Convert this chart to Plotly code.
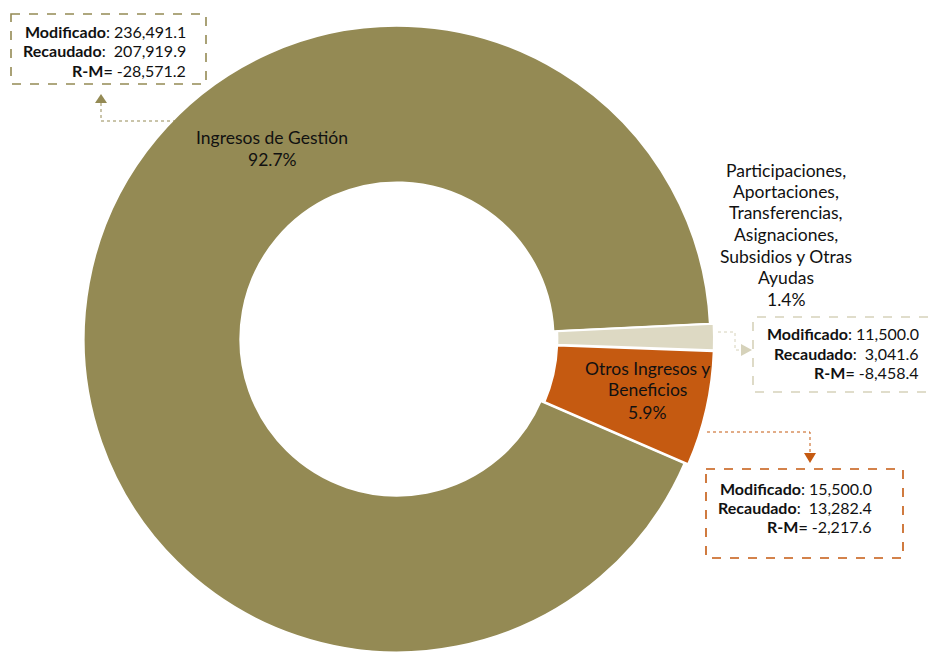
import plotly.graph_objects as go

# ---- data ----
categories = ["Ingresos de Gestión",
              "Participaciones, Aportaciones, Transferencias, Asignaciones, Subsidios y Otras Ayudas",
              "Otros Ingresos y Beneficios"]
label_lines = [["Ingresos de Gestión"],
               ["Participaciones,", "Aportaciones,", "Transferencias,", "Asignaciones,",
                "Subsidios y Otras", "Ayudas"],
               ["Otros Ingresos y", "Beneficios"]]
modificado = [236491.1, 11500.0, 15500.0]
recaudado = [207919.9, 3041.6, 13282.4]
colors = ["#948A54", "#DDD9C3", "#C55A11"]
border_colors = ["#948A54", "#D6D2BA", "#C55A11"]

OFF = 8                     # default body margin of the html page
W, H = 939 - OFF, 656 - OFF
FONT = "Lato, 'Open Sans', sans-serif"


def px(x, y):
    """screen pixel -> paper coords"""
    return (x - OFF) / W, (H - (y - OFF)) / H


def poly(points, close=False):
    s = ""
    for j, (x, y) in enumerate(points):
        X, Y = px(x, y)
        s += ("M" if j == 0 else "L") + f"{X},{Y} "
    return s + ("Z" if close else "")


total = sum(recaudado)
pcts = [v / total * 100 for v in recaudado]

fig = go.Figure()
cx, cy, half = 397 - OFF, 339 - OFF, 317
fig.add_trace(go.Pie(
    labels=categories, values=recaudado, hole=0.5, sort=False,
    direction="clockwise", rotation=113.4, pull=[0, 0.012, 0.012],
    marker=dict(colors=colors, line=dict(color="white", width=2)),
    textinfo="none", showlegend=False,
    domain=dict(x=[(cx - half) / W, (cx + half) / W],
                y=[max(0, (H - (cy + half)) / H), (H - (cy - half)) / H]),
))

annotations = []
shapes = []


def add_text(x, y, text, anchor, size):
    X, Y = px(x, y)
    annotations.append(dict(
        x=X, y=Y, xref="paper", yref="paper", showarrow=False,
        text=text, xanchor=anchor, yanchor="middle",
        font=dict(family=FONT, size=size, color="#111111")))


# slice labels: center x, first line y, line spacing
label_pos = [(272, 137, 22), (786, 170, 21.5), (647, 368, 22)]
for i, (lx, ly, sp) in enumerate(label_pos):
    lines = label_lines[i] + [f"{pcts[i]:.1f}%"]
    for k, ln in enumerate(lines):
        add_text(lx, ly + k * sp, ln, "center", 17.5)

# info boxes: (box x0, y0, x1, y1), text right edge, row y's
boxes = [
    ((11, 14, 206, 84), 188, (31, 51, 71)),
    ((753, 317, 1000, 392), 921, (333, 353, 373)),
    ((706, 469, 903, 558), 874, (488, 507, 526)),
]
for i, ((x0, y0, x1, y1), tr, rows) in enumerate(boxes):
    if x1 > 939:   # box runs off the right edge: no right side drawn
        pts = [(x1, y0), (x0, y0), (x0, y1), (x1, y1)]
        shapes.append(dict(type="path", xref="paper", yref="paper",
                           path=poly(pts),
                           line=dict(color=border_colors[i], width=1.6, dash="dash")))
    else:
        pts = [(x0, y0), (x1, y0), (x1, y1), (x0, y1)]
        shapes.append(dict(type="path", xref="paper", yref="paper",
                           path=poly(pts, close=True),
                           line=dict(color=border_colors[i], width=1.6, dash="dash")))
    rm = recaudado[i] - modificado[i]
    texts = [f"<b>Modificado</b>: {modificado[i]:,.1f}",
             f"<b>Recaudado</b>:  {recaudado[i]:,.1f}",
             f"<b>R-M=</b> {rm:,.1f}"]
    for t, ry in zip(texts, rows):
        add_text(tr, ry, t, "right", 16)

# connectors (pixel polylines) and arrowheads (tip, direction)
connectors = [
    ([(182, 121), (101, 121), (101, 101)], (101, 94), "up"),
    ([(718, 332), (735, 332), (735, 350), (741, 350)], (752, 350), "right"),
    ([(707, 432), (810, 432), (810, 452)], (810, 463), "down"),
]
for i, (pts, tip, dirn) in enumerate(connectors):
    shapes.append(dict(type="path", xref="paper", yref="paper", path=poly(pts),
                       line=dict(color=border_colors[i], width=1, dash="dot")))
    tx, ty = tip
    if dirn == "up":
        tri = [(tx, ty), (tx - 6, ty + 9), (tx + 6, ty + 9)]
    elif dirn == "down":
        tri = [(tx, ty), (tx - 6, ty - 10), (tx + 6, ty - 10)]
    else:
        tri = [(tx, ty), (tx - 11, ty - 6), (tx - 11, ty + 6)]
    shapes.append(dict(type="path", xref="paper", yref="paper",
                       path=poly(tri, close=True),
                       fillcolor=border_colors[i], line=dict(width=0)))

fig.update_layout(
    width=W, height=H, margin=dict(l=0, r=0, t=0, b=0),
    paper_bgcolor="white", plot_bgcolor="white",
    annotations=annotations, shapes=shapes,
    font=dict(family=FONT),
)

fig.write_html("out.html")
